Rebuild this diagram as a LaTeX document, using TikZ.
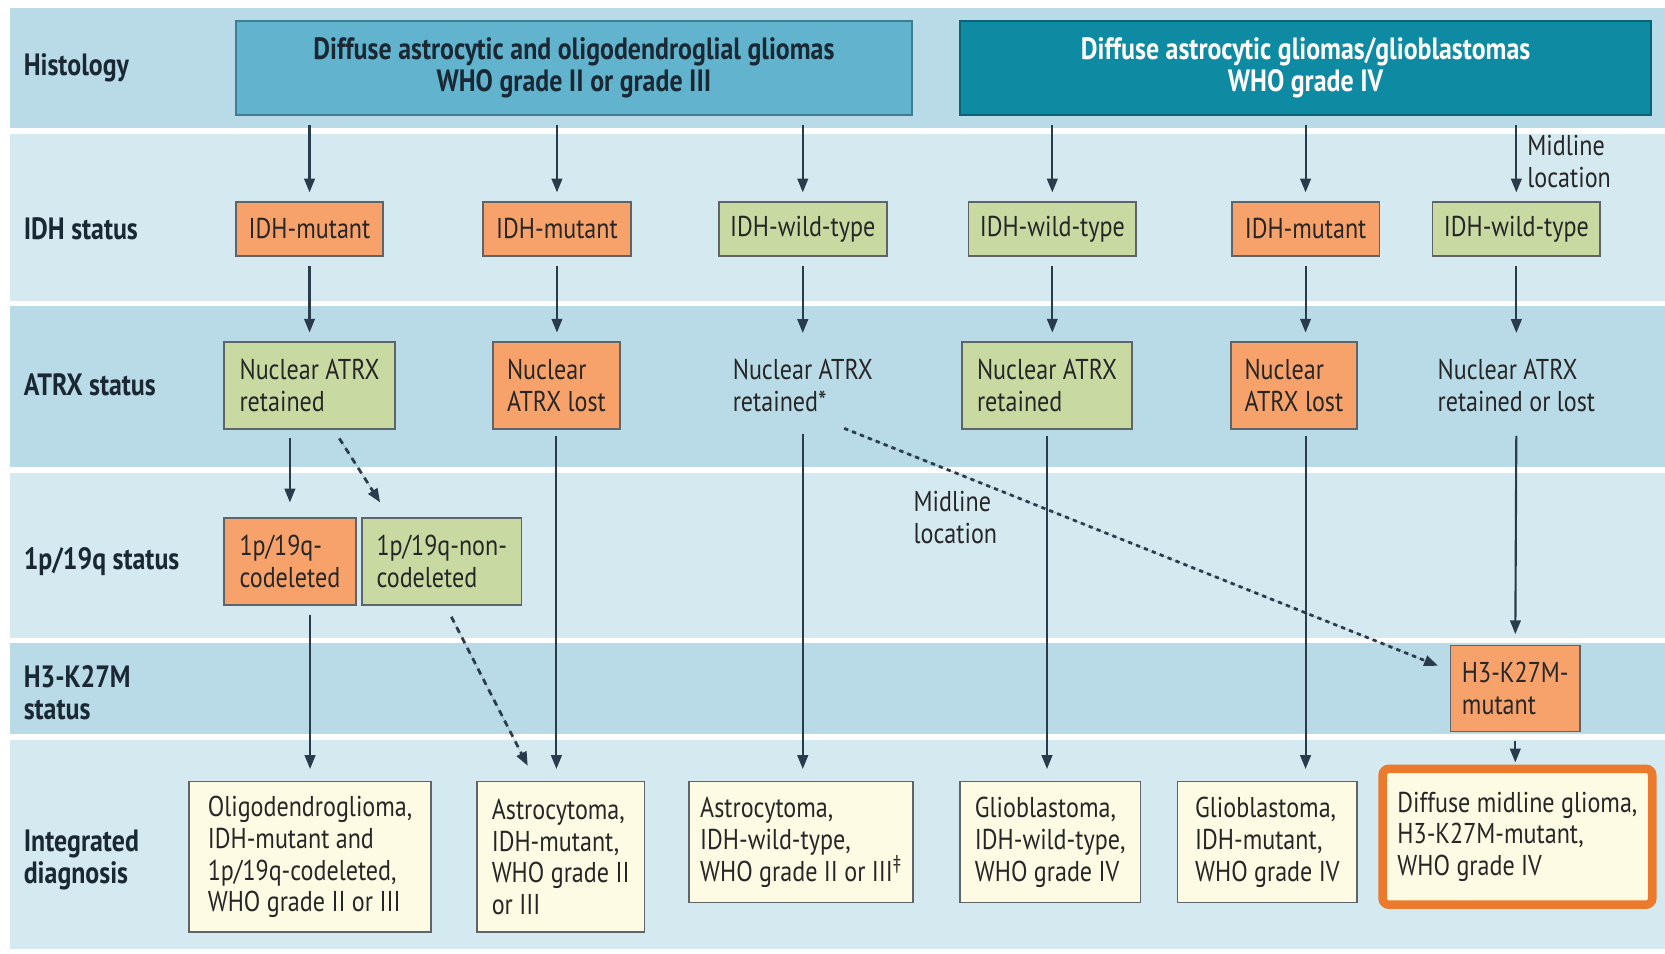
\documentclass[tikz,border=0pt]{standalone}
\usepackage{fontspec}
\setmainfont{PT Sans}[FakeStretch=0.84]
\usetikzlibrary{arrows.meta}
\definecolor{bandA}{HTML}{B8DBE7}
\definecolor{bandB}{HTML}{D5E9F1}
\definecolor{histA}{HTML}{62B3CE}
\definecolor{histAb}{HTML}{3F7E90}
\definecolor{histB}{HTML}{0E8BA3}
\definecolor{histBb}{HTML}{0B6475}
\definecolor{orgf}{HTML}{F7A26A}
\definecolor{grnf}{HTML}{C8D9A2}
\definecolor{crmf}{HTML}{FDFBE3}
\definecolor{bordc}{HTML}{5E6468}
\definecolor{arrc}{HTML}{2A3C4C}
\definecolor{txtc}{HTML}{262626}
\definecolor{labc}{HTML}{1A2833}
\definecolor{frameo}{HTML}{EC7A2C}
\newdimen\pxu \pxu=0.5pt
\tikzset{
  rowlab/.style={anchor=west, align=left, inner sep=0pt, text=labc, font=\fontsize{14.5}{15}\selectfont\bfseries},
  hbox/.style={align=center, inner sep=0pt, line width=0.8pt, font=\fontsize{14.5}{15}\selectfont\bfseries},
  bx/.style={align=left, inner sep=0pt, draw=bordc, line width=0.8pt, text=txtc},
  obox/.style={bx, fill=orgf},
  gbox/.style={bx, fill=grnf},
  cbox/.style={bx, fill=crmf},
  plain/.style={align=left, inner sep=0pt, text=txtc},
  note/.style={align=left, inner sep=0pt, text=txtc, anchor=west},
  arr/.style={-{Triangle[length=6.5pt,width=5pt]}, line width=1pt, draw=arrc, fill=arrc},
  darr/.style={arr, dash pattern=on 3pt off 2.5pt, line width=1.3pt},
  dotarr/.style={arr, dash pattern=on 2pt off 2pt, line width=1.3pt}
}
\begin{document}
\begin{tikzpicture}[x=0.5pt, y=-0.5pt, font=\fontsize{13.5}{15}\selectfont]
\useasboundingbox[fill=white] (0,0) rectangle (1568,898);
% bands
\fill[bandA] (9,8) rectangle (1568,121);
\fill[bandB] (9,126) rectangle (1568,283);
\fill[bandA] (9,288) rectangle (1568,440);
\fill[bandB] (9,445) rectangle (1568,601);
\fill[bandA] (9,606) rectangle (1568,691);
\fill[bandB] (9,697) rectangle (1568,894);
% row labels
\node[rowlab] (lHist) at (22,64) {Histology};
\node[rowlab] (lIDH) at (22,215) {IDH status};
\node[rowlab] (lATRX) at (22,362) {ATRX status};
\node[rowlab] (l1p) at (22,529) {1p/19q status};
\node[rowlab] (lH3) at (22,652) {H3-K27M\\status};
\node[rowlab] (lInt) at (22,810) {Integrated\\diagnosis};
% histology
\node[hbox, fill=histA, draw=histAb, text=labc, minimum width=637\pxu, minimum height=88\pxu] (hA) at (540.5,64) {Diffuse astrocytic and oligodendroglial gliomas\\WHO grade II or grade III};
\node[hbox, fill=histB, draw=histBb, text=white, minimum width=651\pxu, minimum height=88\pxu] (hB) at (1229.5,64) {Diffuse astrocytic gliomas/glioblastomas\\WHO grade IV};
% IDH
\node[obox, align=center, minimum width=139\pxu, minimum height=51\pxu] (i1) at (291.5,215.5) {IDH-mutant};
\node[obox, align=center, minimum width=139\pxu, minimum height=51\pxu] (i2) at (524.5,215.5) {IDH-mutant};
\node[gbox, align=center, minimum width=158\pxu, minimum height=51\pxu] (i3) at (756,215.5) {IDH-wild-type};
\node[gbox, align=center, minimum width=158\pxu, minimum height=51\pxu] (i4) at (991,215.5) {IDH-wild-type};
\node[obox, align=center, minimum width=139\pxu, minimum height=51\pxu] (i5) at (1229.5,215.5) {IDH-mutant};
\node[gbox, align=center, minimum width=158\pxu, minimum height=51\pxu] (i6) at (1428,215.5) {IDH-wild-type};
% ATRX
\node[gbox, minimum width=161\pxu, minimum height=82\pxu] (a1) at (291.5,363) {Nuclear ATRX\\retained};
\node[obox, minimum width=120\pxu, minimum height=82\pxu] (a2) at (524,363) {Nuclear\\ATRX lost};
\node[plain, minimum width=150\pxu, minimum height=82\pxu] (a3) at (756,363) {Nuclear ATRX\\retained*};
\node[gbox, minimum width=160\pxu, minimum height=82\pxu] (a4) at (986,363) {Nuclear ATRX\\retained};
\node[obox, minimum width=119\pxu, minimum height=82\pxu] (a5) at (1218.5,363) {Nuclear\\ATRX lost};
\node[plain, minimum width=170\pxu, minimum height=82\pxu] (a6) at (1428,363) {Nuclear ATRX\\retained or lost};
% 1p/19q
\node[obox, minimum width=124\pxu, minimum height=82\pxu] (p1) at (273,529) {1p/19q-\\codeleted};
\node[gbox, minimum width=150\pxu, minimum height=82\pxu] (p2) at (416,529) {1p/19q-non-\\codeleted};
% H3
\node[obox, minimum width=122\pxu, minimum height=81\pxu] (h3) at (1427,648.5) {H3-K27M-\\mutant};
% diagnosis
\node[cbox, minimum width=228\pxu, minimum height=142\pxu] (d1) at (292,807) {Oligodendroglioma,\\IDH-mutant and\\1p/19q-codeleted,\\WHO grade II or III};
\node[cbox, minimum width=158\pxu, minimum height=142\pxu] (d2) at (528,807) {Astrocytoma,\\IDH-mutant,\\WHO grade II\\or III};
\node[cbox, minimum width=211\pxu, minimum height=114\pxu] (d3) at (754.5,793) {Astrocytoma,\\IDH-wild-type,\\WHO grade II or III\textsuperscript{‡}};
\node[cbox, minimum width=170\pxu, minimum height=114\pxu] (d4) at (989,793) {Glioblastoma,\\IDH-wild-type,\\WHO grade IV};
\node[cbox, minimum width=169\pxu, minimum height=114\pxu] (d5) at (1193.5,793) {Glioblastoma,\\IDH-mutant,\\WHO grade IV};
\node[cbox, draw=frameo, line width=4pt, rounded corners=3pt, minimum width=254\pxu, minimum height=128\pxu] (d6) at (1429,788) {Diffuse midline glioma,\\H3-K27M-mutant,\\WHO grade IV};
% notes
\node[note] (ml1) at (1438,152) {Midline\\location};
\node[note] (ml2) at (860,487) {Midline\\location};
% arrows histology -> IDH
\foreach \c in {1,2,3} \draw[arr, shorten <=4.5pt, shorten >=4pt] (hA.south -| i\c.north) -- (i\c.north);
\foreach \c in {4,5,6} \draw[arr, shorten <=4.5pt, shorten >=4pt] (hB.south -| i\c.north) -- (i\c.north);
% IDH -> ATRX
\foreach \c in {1,...,6} \draw[arr, shorten <=4.5pt, shorten >=4pt] (i\c.south) -- (i\c.south |- a\c.north);
% ATRX -> next
\draw[arr, shorten <=4pt, shorten >=7pt] (a1.south -| p1.north) -- (p1.north);
\draw[darr] ([xshift=14pt,yshift=-4pt]a1.south) -- ([xshift=-29pt,yshift=7pt]p2.north);
\draw[arr, shorten <=3pt, shorten >=5.5pt] (a2.south) -- (a2.south |- d2.north);
\draw[arr, shorten <=2pt, shorten >=5.5pt] (a3.south) -- (a3.south |- d3.north);
\draw[arr, shorten <=3pt, shorten >=5.5pt] (a4.south) -- (a4.south |- d4.north);
\draw[arr, shorten <=3pt, shorten >=5.5pt] (i5.south |- a5.south) -- (i5.south |- d5.north);
\draw[arr, shorten <=3pt, shorten >=5pt] (a6.south) -- (h3.north);
\draw[dotarr] ([xshift=19.5pt,yshift=0.5pt]a3.south) -- ([xshift=-5.5pt,yshift=10.75pt]h3.west);
% to diagnosis
\draw[arr, shorten <=4pt, shorten >=5.5pt] (p1.south -| d1.north) -- (d1.north);
\draw[darr] ([xshift=4.5pt,yshift=-5pt]p2.south) -- ([xshift=-15.5pt,yshift=7pt]d2.north);
\draw[arr, shorten <=4pt, shorten >=1pt] (h3.south) -- (h3.south |- d6.north);
\end{tikzpicture}
\end{document}
